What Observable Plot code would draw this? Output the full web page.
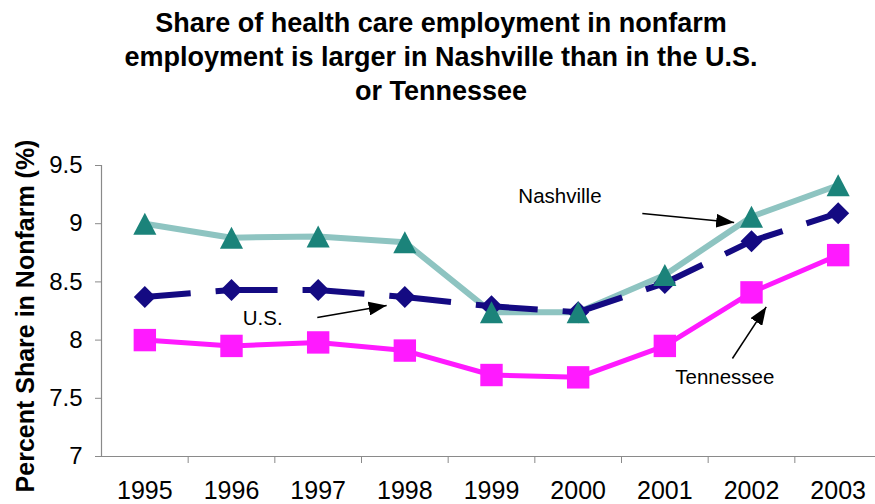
<!DOCTYPE html>
<html>
<head>
<meta charset="utf-8">
<script src="https://cdn.jsdelivr.net/npm/d3@7"></script>
<script src="https://cdn.jsdelivr.net/npm/@observablehq/plot@0.6"></script>
<style>
  html, body { margin: 0; padding: 0; background: #fff; }
  #title {
    width: 875px; height: 105px; box-sizing: border-box;
    padding-top: 6px; padding-left: 7px;
    font-family: "Liberation Sans", Arial, sans-serif;
    font-weight: bold; font-size: 27px; line-height: 34px;
    text-align: center; color: #000;
  }
</style>
</head>
<body>
<div id="title">Share of health care employment in nonfarm<br>employment is larger in Nashville than in the U.S.<br>or Tennessee</div>
<div id="chart"></div>
<script>
// ---- data ----
const years = [1995, 1996, 1997, 1998, 1999, 2000, 2001, 2002, 2003];
const nashville = [9.00, 8.88, 8.89, 8.84, 8.24, 8.24, 8.56, 9.06, 9.33];
const us = [8.37, 8.43, 8.43, 8.37, 8.29, 8.24, 8.49, 8.85, 9.09];
const tennessee = [8.00, 7.95, 7.98, 7.91, 7.70, 7.68, 7.95, 8.41, 8.73];
const yTicks = [7, 7.5, 8, 8.5, 9, 9.5];
const yLabel = "Percent Share in Nonfarm (%)";

// annotations (data units)
const noteText = ["Nashville", "U.S.", "Tennessee"];
const noteX = [1999.31, 1996.13, 2001.12];
const noteY = [9.234, 8.186, 7.68];
const arrowX1 = [2000.74, 1996.99, 2001.78];
const arrowY1 = [9.088, 8.194, 7.842];
const arrowX2 = [2001.80, 1997.79, 2002.17];
const arrowY2 = [9.01, 8.298, 8.285];

// ---- tables ----
const rows = years.map((yr, i) => ({year: yr, nashville: nashville[i], us: us[i], tennessee: tennessee[i]}));
const notes = noteText.map((t, i) => ({text: t, x: noteX[i], y: noteY[i]}));
const arrows = arrowX1.map((x, i) => ({x1: x, y1: arrowY1[i], x2: arrowX2[i], y2: arrowY2[i]}));
const between = years.slice(0, -1).map(y => y + 0.5);

// custom symbols, bounding box centred on the point
const tri = {draw(ctx, size) { const r = Math.sqrt(size / Math.PI); ctx.moveTo(0, -r); ctx.lineTo(1.05 * r, r); ctx.lineTo(-1.05 * r, r); ctx.closePath(); }};
const dia = {draw(ctx, size) { const r = Math.sqrt(size / Math.PI); ctx.moveTo(0, -r); ctx.lineTo(r, 0); ctx.lineTo(0, r); ctx.lineTo(-r, 0); ctx.closePath(); }};
const sq = {draw(ctx, size) { const r = Math.sqrt(size / Math.PI); ctx.rect(-r, -r, 2 * r, 2 * r); }};

function arrowHead(color, context) {
  const doc = (context && context.document) || document;
  const ns = "http://www.w3.org/2000/svg";
  const m = doc.createElementNS(ns, "marker");
  m.setAttribute("viewBox", "-18 -7 18 14");
  m.setAttribute("markerWidth", 18);
  m.setAttribute("markerHeight", 14);
  m.setAttribute("markerUnits", "userSpaceOnUse");
  m.setAttribute("orient", "auto");
  m.setAttribute("refX", 0);
  m.setAttribute("refY", 0);
  const p = doc.createElementNS(ns, "path");
  p.setAttribute("d", "M-18,-7L0,0L-18,7Z");
  p.setAttribute("fill", color);
  p.setAttribute("stroke", "none");
  m.appendChild(p);
  return m;
}

const plot = Plot.plot({
  width: 875,
  height: 399,
  marginTop: 60,
  marginBottom: 48,
  marginLeft: 101,
  marginRight: 0,
  style: {fontFamily: "'Liberation Sans', Arial, sans-serif", fontSize: "24px", color: "#000", background: "#fff", overflow: "visible"},
  x: {domain: [1994.5, 2003.5], range: [101, 881]},
  y: {domain: [7, 9.5]},
  marks: [
    Plot.ruleY([7], {stroke: "#8a8a8a", strokeWidth: 1.2}),
    Plot.ruleX([1994.5], {stroke: "#8a8a8a", strokeWidth: 1.2}),
    Plot.axisY({ticks: yTicks, tickSize: 6, tickPadding: 13, tickFormat: d => String(d), fontSize: 24, stroke: "#8a8a8a", label: null}),
    Plot.axisX({ticks: years, tickSize: 0, tickPadding: 25, tickFormat: d => String(d), fontSize: 25, label: null}),
    Plot.axisX({ticks: between, tickSize: 7, tickFormat: () => "", stroke: "#8a8a8a", label: null}),
    Plot.text([yLabel], {frameAnchor: "left", textAnchor: "middle", rotate: -90, dx: -76, dy: 5, fontSize: 25, fontWeight: "bold", fill: "#000"}),
    Plot.line(rows, {x: "year", y: "nashville", stroke: "#8ec4c1", strokeWidth: 6}),
    Plot.line(rows, {x: "year", y: "us", stroke: "#140a82", strokeWidth: 6, strokeDasharray: "62,25", strokeDashoffset: 16, strokeLinecap: "butt"}),
    Plot.line(rows, {x: "year", y: "tennessee", stroke: "#ff1aff", strokeWidth: 5}),
    Plot.dot(rows, {x: "year", y: "us", symbol: dia, r: 11, fill: "#140a82", stroke: "none"}),
    Plot.dot(rows, {x: "year", y: "nashville", symbol: tri, r: 11, fill: "#1b837a", stroke: "none"}),
    Plot.dot(rows, {x: "year", y: "tennessee", symbol: sq, r: 11.2, fill: "#ff1aff", stroke: "none"}),
    Plot.link(arrows, {x1: "x1", y1: "y1", x2: "x2", y2: "y2", stroke: "#000", strokeWidth: 1.5, markerEnd: arrowHead}),
    Plot.text(notes, {x: "x", y: "y", text: "text", textAnchor: "start", fontSize: 20.5, fill: "#000"})
  ]
});
document.getElementById("chart").appendChild(plot);
</script>
</body>
</html>
